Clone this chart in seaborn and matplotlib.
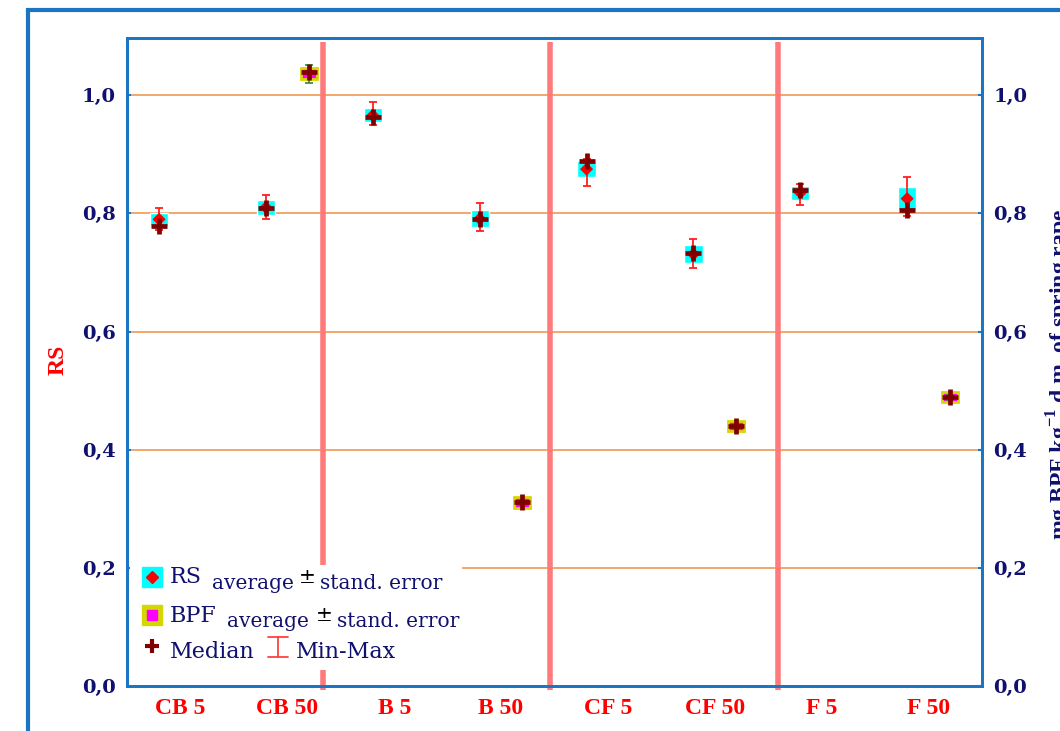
import numpy as np
import pandas as pd
import matplotlib
matplotlib.use("Agg")
import matplotlib.pyplot as plt
import seaborn as sns
from matplotlib.patches import Rectangle
from matplotlib.lines import Line2D

# data
categories = ['CB 5', 'CB 50', 'B 5', 'B 50', 'CF 5', 'CF 50', 'F 5', 'F 50']
rs_mean = [0.790, 0.810, 0.966, 0.791, 0.875, 0.731, 0.835, 0.825]
rs_se = [0.011, 0.012, 0.012, 0.014, 0.014, 0.015, 0.012, 0.020]
rs_median = [0.778, 0.809, 0.963, 0.790, 0.888, 0.733, 0.839, 0.806]
rs_min = [0.772, 0.790, 0.949, 0.770, 0.846, 0.707, 0.814, 0.795]
rs_max = [0.810, 0.832, 0.988, 0.817, 0.893, 0.756, 0.849, 0.861]

bpf_categories = ['CB 50', 'B 50', 'CF 50', 'F 50']
bpf_mean = [1.037, 0.311, 0.440, 0.489]
bpf_se = [0.009, 0.003, 0.004, 0.004]
bpf_median = [1.040, 0.312, 0.441, 0.489]
bpf_min = [1.020, 0.307, 0.436, 0.485]
bpf_max = [1.051, 0.315, 0.444, 0.492]

separators = [1.33, 3.46, 5.59]
y_ticks = [0.0, 0.2, 0.4, 0.6, 0.8, 1.0]
y_tick_labels = ['0,0', '0,2', '0,4', '0,6', '0,8', '1,0']

sns.set_theme(style="white")
plt.rcParams['font.family'] = ['Liberation Serif', 'DejaVu Serif']
plt.rcParams['mathtext.fontset'] = 'custom'
plt.rcParams['mathtext.rm'] = 'Liberation Serif'
plt.rcParams['mathtext.bf'] = 'Liberation Serif:bold'

BLUE = '#1a75c4'
NAVY = '#10106e'
W, H = 1060, 731


def px(x, y):
    return x / W, 1 - y / H


fig = plt.figure(figsize=(10.6, 7.31), dpi=100)
ax = fig.add_axes([127 / W, 1 - 686 / H, (982 - 127) / W, (686 - 38) / H])

pos = {c: i for i, c in enumerate(categories)}
rs = pd.DataFrame({'cat': categories, 'mean': rs_mean, 'se': rs_se,
                   'median': rs_median, 'min': rs_min, 'max': rs_max})
rs['x'] = rs['cat'].map(pos) - 0.2
bpf = pd.DataFrame({'cat': bpf_categories, 'mean': bpf_mean, 'se': bpf_se,
                    'median': bpf_median, 'min': bpf_min, 'max': bpf_max})
bpf['x'] = bpf['cat'].map(pos) + 0.2

# grid + separators
ax.set_yticks(y_ticks)
ax.yaxis.grid(True, color='#f0a060', lw=1.3, zorder=0)
ax.xaxis.grid(False)
ax.set_axisbelow(True)
ax.vlines(separators, -0.006, 1.09, color='#ff7b7b', lw=4, zorder=2, clip_on=False)

# RS: mean +- SE box, min-max, mean, median
ax.bar(rs['x'], 2 * rs['se'], bottom=rs['mean'] - rs['se'], width=0.17,
       color='#00ffff', zorder=3)
ax.errorbar(rs['x'], rs['mean'], yerr=[rs['mean'] - rs['min'], rs['max'] - rs['mean']],
            fmt='none', ecolor='#ff2020', elinewidth=1.3, capsize=3, capthick=1.3, zorder=4)
sns.scatterplot(data=rs, x='x', y='mean', marker='D', color='red', s=45,
                edgecolor='none', zorder=5, ax=ax)

# BPF
bh = np.maximum(2 * bpf['se'], 0.018)
ax.bar(bpf['x'], bh, bottom=bpf['mean'] - bh / 2, width=0.15,
       facecolor='#ff00ff', edgecolor='#d6d600', lw=2, zorder=3)
ax.errorbar(bpf['x'], bpf['mean'], yerr=[bpf['mean'] - bpf['min'], bpf['max'] - bpf['mean']],
            fmt='none', ecolor='#2e8b2e', elinewidth=1.2, capsize=3, capthick=1.2, zorder=4)

med = pd.concat([rs[['x', 'median']], bpf[['x', 'median']]])
sns.scatterplot(data=med, x='x', y='median', marker='+', color='#800000', s=120,
                linewidth=3.4, zorder=6, ax=ax)

ax.set_xlim(-0.5, 7.5)
ax.set_ylim(0, 1.097)
ax.set_xlabel('')
ax.set_ylabel('')
ax.set_xticks(range(len(categories)))
ax.set_xticklabels(categories, color='red', fontweight='bold', fontsize=17,
                   family='Liberation Serif')
ax.set_yticklabels(y_tick_labels, color=NAVY, fontweight='bold', fontsize=14,
                   family='DejaVu Serif')
ax.tick_params(axis='x', direction='in', length=3, width=1.5, color=BLUE, pad=9)
ax.tick_params(axis='y', direction='in', length=3, width=1.5, color=BLUE, pad=8)
for s in ax.spines.values():
    s.set_color(BLUE)
    s.set_linewidth(2)

ax2 = ax.twinx()
ax2.set_ylim(ax.get_ylim())
ax2.set_yticks(y_ticks)
ax2.set_yticklabels(y_tick_labels, color=NAVY, fontweight='bold', fontsize=14,
                    family='DejaVu Serif')
ax2.tick_params(axis='y', direction='in', length=3, width=1.5, color=BLUE, pad=8)
ax2.grid(False)
for s in ax2.spines.values():
    s.set_color(BLUE)
    s.set_linewidth(2)

# axis titles
fig.text(*px(58, 360), 'RS', rotation=90, color='red', fontweight='bold', fontsize=17,
         ha='center', va='center')
fig.text(*px(1045, 375), r'mg BPF kg$^{\mathbf{-1}}$ d.m. of spring rape', rotation=90,
         color=NAVY, fontweight='bold', fontsize=17, ha='left', va='center')

# legend (drawn by hand)
ax.add_patch(Rectangle((0.003, 0.025), 0.389, 0.162, transform=ax.transAxes,
                       facecolor='white', edgecolor='none', zorder=7))
lf = dict(family='DejaVu Serif', fontsize=14.5, color=NAVY, va='baseline', zorder=8)
big = {**lf, 'fontsize': 16}
fig.add_artist(Line2D([152 / W], [1 - 577 / H], marker='s', ms=14, color='#00ffff', lw=0))
fig.add_artist(Line2D([152 / W], [1 - 577 / H], marker='D', ms=6, color='red', lw=0))
fig.text(*px(170, 583), 'RS', **big)
fig.text(*px(212, 589), 'average', **lf)
fig.text(*px(299, 583), '\u00b1', **{**lf, 'color': 'black'})
fig.text(*px(320, 589), 'stand. error', **lf)

fig.add_artist(Line2D([152 / W], [1 - 615 / H], marker='s', ms=14, color='#d6d600', lw=0))
fig.add_artist(Line2D([152 / W], [1 - 615 / H], marker='s', ms=7.5, color='#ff00ff', lw=0))
fig.text(*px(170, 622), 'BPF', **big)
fig.text(*px(227, 627), 'average', **lf)
fig.text(*px(316, 621), '\u00b1', **{**lf, 'color': 'black'})
fig.text(*px(337, 627), 'stand. error', **lf)

fig.add_artist(Line2D([152 / W], [1 - 646 / H], marker='+', ms=10, mew=3,
                      color='#800000', lw=0))
fig.text(*px(170, 658), 'Median', **big)
fig.add_artist(Line2D([278 / W, 278 / W], [1 - 637 / H, 1 - 657 / H], color='#ff4040', lw=1.3))
fig.add_artist(Line2D([268 / W, 288 / W], [1 - 637 / H, 1 - 637 / H], color='#ff4040', lw=1.3))
fig.add_artist(Line2D([268 / W, 288 / W], [1 - 657 / H, 1 - 657 / H], color='#ff4040', lw=1.3))
fig.text(*px(296, 658), 'Min-Max', **big)

# outer frame
fig.add_artist(Rectangle((28 / W, -0.1), 2, 1 - 10 / H + 0.1, transform=fig.transFigure,
                         fill=False, edgecolor=BLUE, lw=3))

fig.savefig('out.png', dpi=100)
